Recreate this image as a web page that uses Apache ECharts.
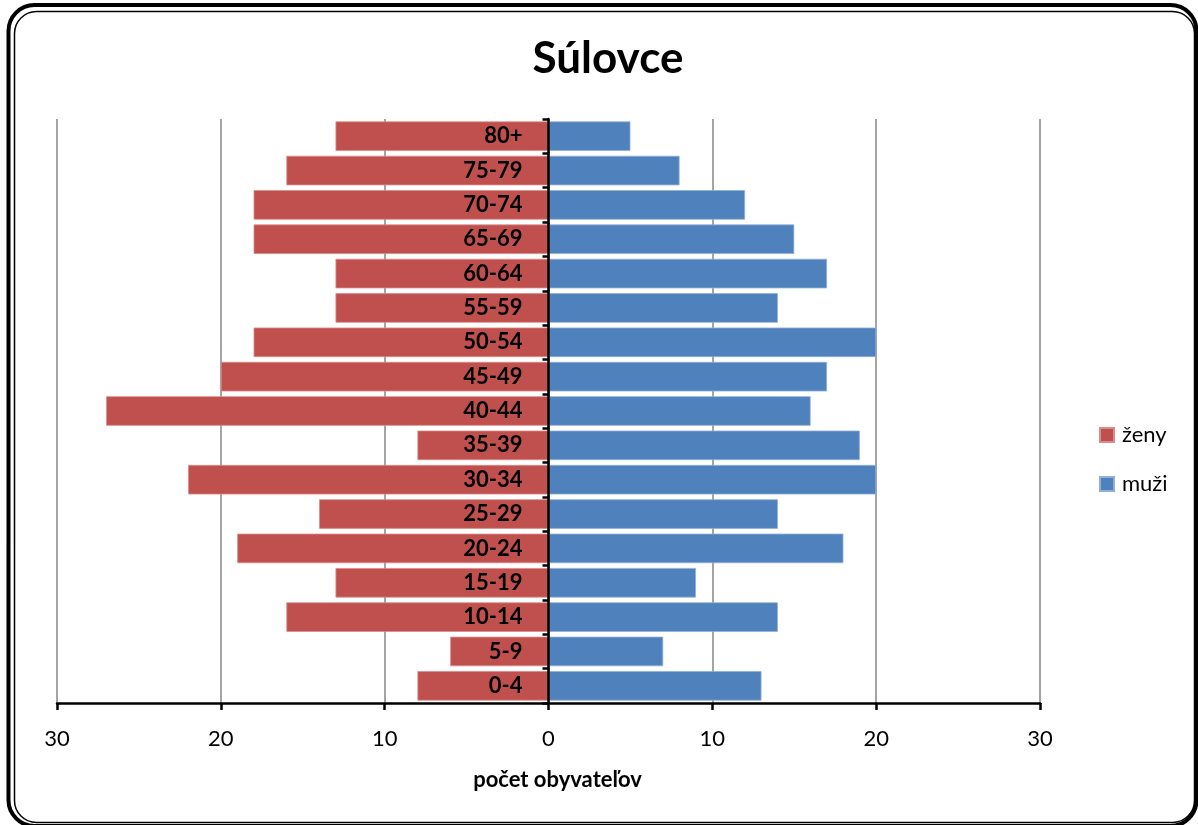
<!DOCTYPE html>
<html>
<head>
<meta charset="utf-8">
<script src="https://cdn.jsdelivr.net/npm/echarts@6/dist/echarts.min.js"></script>
<style>
html,body{margin:0;padding:0;background:#fff;}
#chart{width:1198px;height:825px;}
</style>
</head>
<body>
<div id="chart"></div>
<script>
const categories = ['0-4','5-9','10-14','15-19','20-24','25-29','30-34','35-39','40-44','45-49','50-54','55-59','60-64','65-69','70-74','75-79','80+'];
const zeny = [8,6,16,13,19,14,22,8,27,20,18,13,13,18,18,16,13];
const muzi = [13,7,14,9,18,14,20,19,16,17,20,14,17,15,12,8,5];
const xTicks = [-30,-20,-10,0,10,20,30];

const FONT = 'Lato, "Open Sans", "Noto Sans", sans-serif';
const chart = echarts.init(document.getElementById('chart'));
chart.setOption({
  animation: false,
  backgroundColor: '#fff',
  textStyle: {fontFamily: FONT},
  title: {
    text: 'Súlovce', left: 603, top: 32, textAlign: 'center',
    textStyle: {fontSize: 44, fontWeight: 'bold', color: '#000', fontFamily: FONT}
  },
  graphic: [
    {type: 'rect', shape: {x: 8.5, y: 5, width: 1188, height: 821, r: 26}, style: {fill: 'none', stroke: '#000', lineWidth: 4}, z: 100},
    {type: 'rect', shape: {x: 14.5, y: 11.5, width: 1180, height: 811, r: 22}, style: {fill: 'none', stroke: '#000', lineWidth: 1.5}, z: 100}
  ],
  legend: {
    orient: 'vertical', left: 1094, top: 419, itemGap: 27,
    itemWidth: 14, itemHeight: 14, icon: 'rect',
    textStyle: {fontSize: 22, color: '#000', fontFamily: FONT, padding: [0,0,0,3]},
    data: ['ženy', 'muži']
  },
  grid: {left: 57, right: 158, top: 119, bottom: 122, containLabel: false},
  xAxis: {
    type: 'value', min: -30, max: 30, interval: 10,
    axisLine: {show: true, onZero: false, lineStyle: {color: '#000', width: 2.5}},
    axisTick: {show: true, length: 7, lineStyle: {color: '#000', width: 2.5}},
    splitLine: {show: true, lineStyle: {color: '#868686', width: 1.5}},
    axisLabel: {fontSize: 22, color: '#000', margin: 25, fontFamily: FONT,
      formatter: v => xTicks.includes(v) ? String(Math.abs(v)) : ''},
    name: 'počet obyvateľov', nameLocation: 'middle', nameGap: 66,
    nameTextStyle: {fontSize: 22, fontWeight: 'bold', color: '#000', fontFamily: FONT, padding: [0,0,0,18]}
  },
  yAxis: {
    type: 'category', data: categories,
    axisLine: {show: true, onZero: true, lineStyle: {color: '#000', width: 2.5}},
    axisTick: {show: true, length: 6, inside: false, lineStyle: {color: '#000', width: 2.5}},
    axisLabel: {show: false},
    splitLine: {show: false},
    z: 5
  },
  series: [
    {
      name: 'ženy', type: 'bar', stack: 'pop', barCategoryGap: '14%',
      data: zeny.map(v => -v),
      itemStyle: {color: '#C0504D', borderColor: '#d98c8a', borderWidth: 0.8},
      label: {show: true, position: 'insideRight', distance: 26, formatter: p => categories[p.dataIndex],
        fontSize: 22, fontWeight: 'bold', color: '#000', fontFamily: FONT}
    },
    {
      name: 'muži', type: 'bar', stack: 'pop', barCategoryGap: '14%',
      data: muzi,
      itemStyle: {color: '#4F81BD', borderColor: '#8fb0d8', borderWidth: 0.8}
    }
  ]
});
</script>
</body>
</html>
